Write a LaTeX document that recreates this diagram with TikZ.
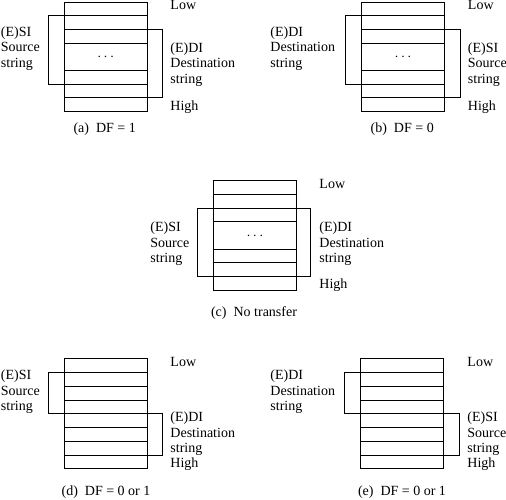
\documentclass[tikz,border=0pt]{standalone}
\usepackage{fontspec}
\setmainfont{Liberation Serif}
\usepackage{tikz}
\usetikzlibrary{matrix}

\tikzset{
  stack/.style={matrix of nodes, nodes in empty cells, inner sep=0pt, anchor=north west,
    row sep=-\pgflinewidth, nodes={draw, minimum width=83pt, minimum height=13.6pt, inner sep=0pt, outer sep=0pt,
    text height=0pt, text depth=0pt}},
  stackeven/.style={stack, nodes={minimum height=13.75pt}},
  dotrow/.style={minimum height=27.6pt, text height=7pt},
  lbl/.style={anchor=base west, align=left, inner sep=0pt},
  captext/.style={anchor=base, inner sep=0pt}
}

\begin{document}
\begin{tikzpicture}[x=1pt, y=-1pt, line width=0.9pt, font=\fontsize{14}{15.5}\selectfont]
			\useasboundingbox (0,0) rectangle (506,500);
			% (a) DF = 1
			\matrix (sa) [stack] at (63.3,1.3)
			{
			  \\ \\ \\ |[dotrow]| $\cdots$ \\ \\ \\ \\
			};
			\draw (sa-2-1.north west) -- ++(-16,0) |- (sa-5-1.south west);
			\draw (sa-3-1.north east) -- ++(15.5,0) |- (sa-6-1.south east);
			\node[lbl] (lowa) at (170,9.5) {Low};
			\node[lbl] (srca) at (0.5,67.5) {(E)SI\\Source\\string};
			\node[lbl] (dsta) at (170,83.5) {(E)DI\\Destination\\string};
			\node[lbl] (higha) at (170,110.5) {High};
			\node[captext] (capa) at (104.7,132.5) {(a)~~DF = 1};
			% (b) DF = 0
			\matrix (sb) [stack] at (360.7,1.3)
			{
			  \\ \\ \\ |[dotrow]| $\cdots$ \\ \\ \\ \\
			};
			\draw (sb-2-1.north west) -- ++(-16,0) |- (sb-5-1.south west);
			\draw (sb-3-1.north east) -- ++(15.5,0) |- (sb-6-1.south east);
			\node[lbl] (lowb) at (467.5,9.5) {Low};
			\node[lbl] (dstb) at (270,67.5) {(E)DI\\Destination\\string};
			\node[lbl] (srcb) at (467.5,83.5) {(E)SI\\Source\\string};
			\node[lbl] (highb) at (467.5,110.5) {High};
			\node[captext] (capb) at (402.2,132.5) {(b)~~DF = 0};
			% (c) no transfer
			\matrix (sc) [stack] at (212.5,180)
			{
			  \\ \\ \\ |[dotrow]| $\cdots$ \\ \\ \\ \\
			};
			\draw (sc-3-1.north west) -- ++(-15.5,0) |- (sc-6-1.south west);
			\draw (sc-3-1.north east) -- ++(14.5,0) |- (sc-6-1.south east);
			\node[lbl] (lowc) at (319,188.5) {Low};
			\node[lbl] (srcc) at (150,262.5) {(E)SI\\Source\\string};
			\node[lbl] (dstc) at (319,262.5) {(E)DI\\Destination\\string};
			\node[lbl] (highc) at (319,288.5) {High};
			\node[captext] (capc) at (254,316.5) {(c)~~No transfer};
			% (d) DF = 0 or 1
			\matrix (sd) [stackeven] at (63.3,358)
			{
			  \\ \\ \\ \\ \\ \\ \\ \\
			};
			\draw (sd-2-1.north west) -- ++(-16,0) |- (sd-4-1.south west);
			\draw (sd-5-1.north east) -- ++(15.5,0) |- (sd-7-1.south east);
			\node[lbl] (lowd) at (170,366.5) {Low};
			\node[lbl] (srcd) at (0.5,410.5) {(E)SI\\Source\\string};
			\node[lbl] (dstd) at (170,452.5) {(E)DI\\Destination\\string};
			\node[lbl] (highd) at (170,467.5) {High};
			\node[captext] (capd) at (106,495.5) {(d)~~DF = 0 or 1};
			% (e) DF = 0 or 1
			\matrix (se) [stackeven] at (360,358)
			{
			  \\ \\ \\ \\ \\ \\ \\ \\
			};
			\draw (se-2-1.north west) -- ++(-16,0) |- (se-4-1.south west);
			\draw (se-5-1.north east) -- ++(15.5,0) |- (se-7-1.south east);
			\node[lbl] (lowe) at (467,366.5) {Low};
			\node[lbl] (dste) at (270,410.5) {(E)DI\\Destination\\string};
			\node[lbl] (srce) at (467,452.5) {(E)SI\\Source\\string};
			\node[lbl] (highe) at (467,467.5) {High};
			\node[captext] (cape) at (402,495.5) {(e)~~DF = 0 or 1};
		\end{tikzpicture}
\end{document}
